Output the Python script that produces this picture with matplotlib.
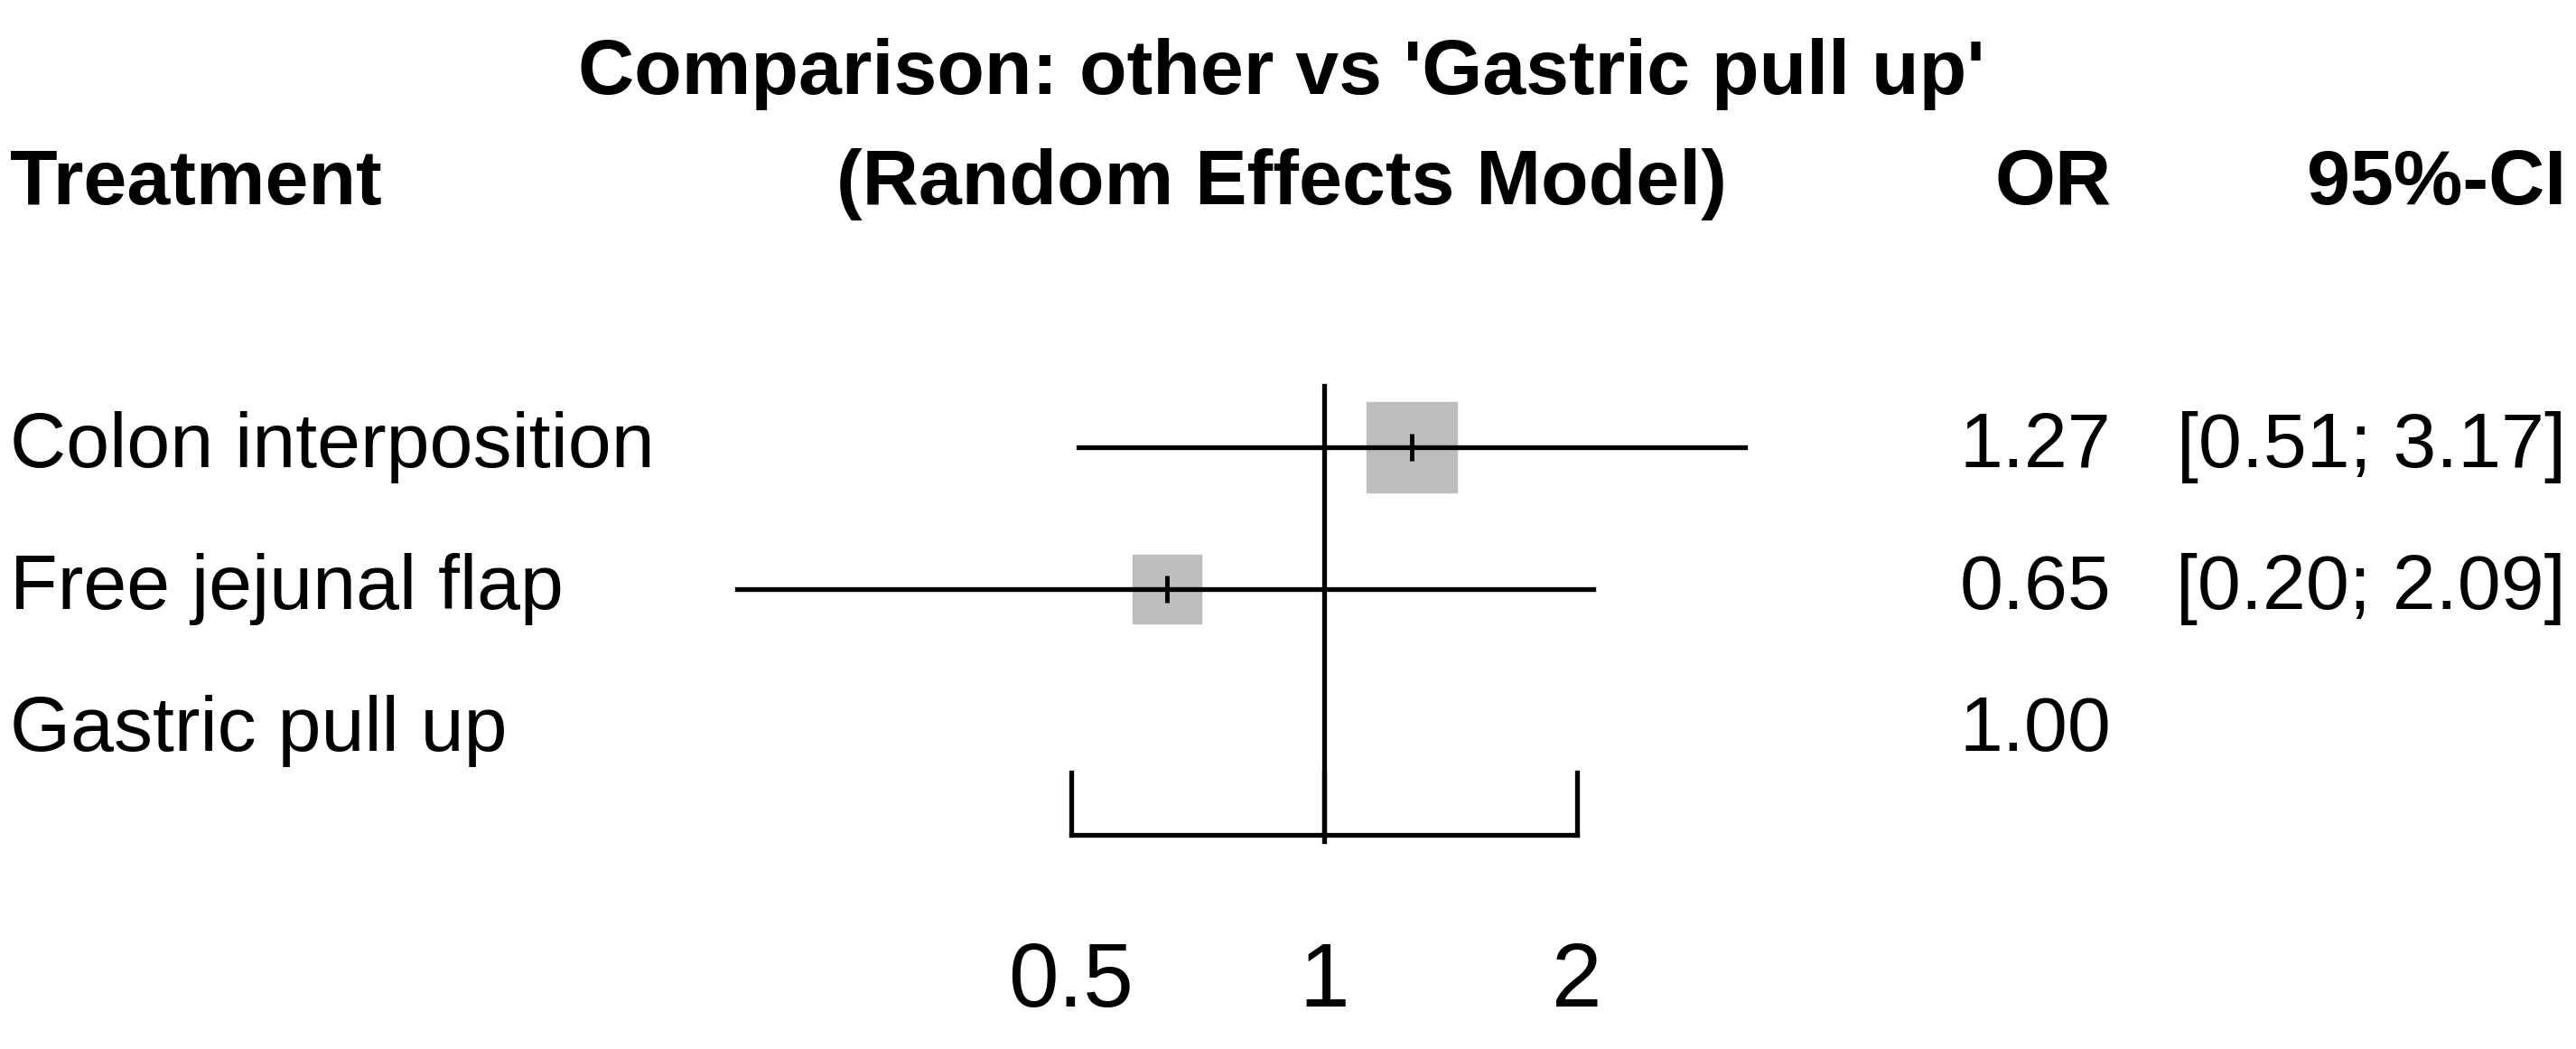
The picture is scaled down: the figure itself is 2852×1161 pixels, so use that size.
import matplotlib
matplotlib.use("Agg")
import matplotlib.pyplot as plt

treatments = ["Colon interposition", "Free jejunal flap", "Gastric pull up"]
or_vals = [1.27, 0.65, 1.00]
ci_low = [0.51, 0.20, None]
ci_high = [3.17, 2.09, None]
box_px = [55, 42, 0]
ticks = [0.5, 1, 2]
tick_labels = ["0.5", "1", "2"]

W, H = 2852, 1161
S = W / 1568.0
fig = plt.figure(figsize=(W/100, H/100), dpi=100)
ax = fig.add_axes([0, 0, 1, 1])
ax.set_xscale("log", base=2)
x0, ppd = 806*S, 154.0*S
ax.set_xlim(2**((0-x0)/ppd), 2**((W-x0)/ppd))
y0, step = 272*S, 86.5*S
ax.set_ylim((H-y0)/step, (0-y0)/step)
ax.set_axis_off()

def py(p):
    return (p*S-y0)/step

def fx(p):
    return 2**((p*S-x0)/ppd)

lw = 3.8
fam = ["Liberation Sans", "DejaVu Sans"]
fs = 62
for i, (t, o, lo, hi, b) in enumerate(zip(treatments, or_vals, ci_low, ci_high, box_px)):
    if lo is not None:
        ax.plot([o], [i], marker="s", ms=b*S*0.72, color="#bdbdbd", mec="#bdbdbd", zorder=2)
        ax.plot([lo, hi], [i, i], color="black", lw=lw, zorder=3)
        ax.plot([o], [i], marker="|", ms=22, mew=3.5, color="black", zorder=4)
        ax.text(fx(1562), i, f"[{lo:.2f}; {hi:.2f}]", ha="right", va="center",
                fontsize=fs, family=fam)
    ax.text(fx(6), i, t, ha="left", va="center", fontsize=fs, family=fam)
    ax.text(fx(1285), i, f"{o:.2f}", ha="right", va="center", fontsize=fs, family=fam)

ax.plot([1, 1], [py(235), py(512)], color="black", lw=lw)
ax.plot([ticks[0], ticks[-1]], [py(508), py(508)], color="black", lw=lw)
for t, lab in zip(ticks, tick_labels):
    ax.plot([t, t], [py(508), py(470)], color="black", lw=lw)
    ax.text(t, py(598), lab, ha="center", va="center", fontsize=72, family=fam)

ax.text(fx(780), py(45), "Comparison: other vs 'Gastric pull up'", ha="center", va="center",
        fontsize=fs, fontweight="bold", family=fam)
ax.text(fx(6), py(112), "Treatment", ha="left", va="center", fontsize=fs, fontweight="bold", family=fam)
ax.text(fx(780), py(112), "(Random Effects Model)", ha="center", va="center", fontsize=fs, fontweight="bold", family=fam)
ax.text(fx(1285), py(112), "OR", ha="right", va="center", fontsize=fs, fontweight="bold", family=fam)
ax.text(fx(1562), py(112), "95%-CI", ha="right", va="center", fontsize=fs, fontweight="bold", family=fam)

fig.savefig("out.png", dpi=100, facecolor="white")
